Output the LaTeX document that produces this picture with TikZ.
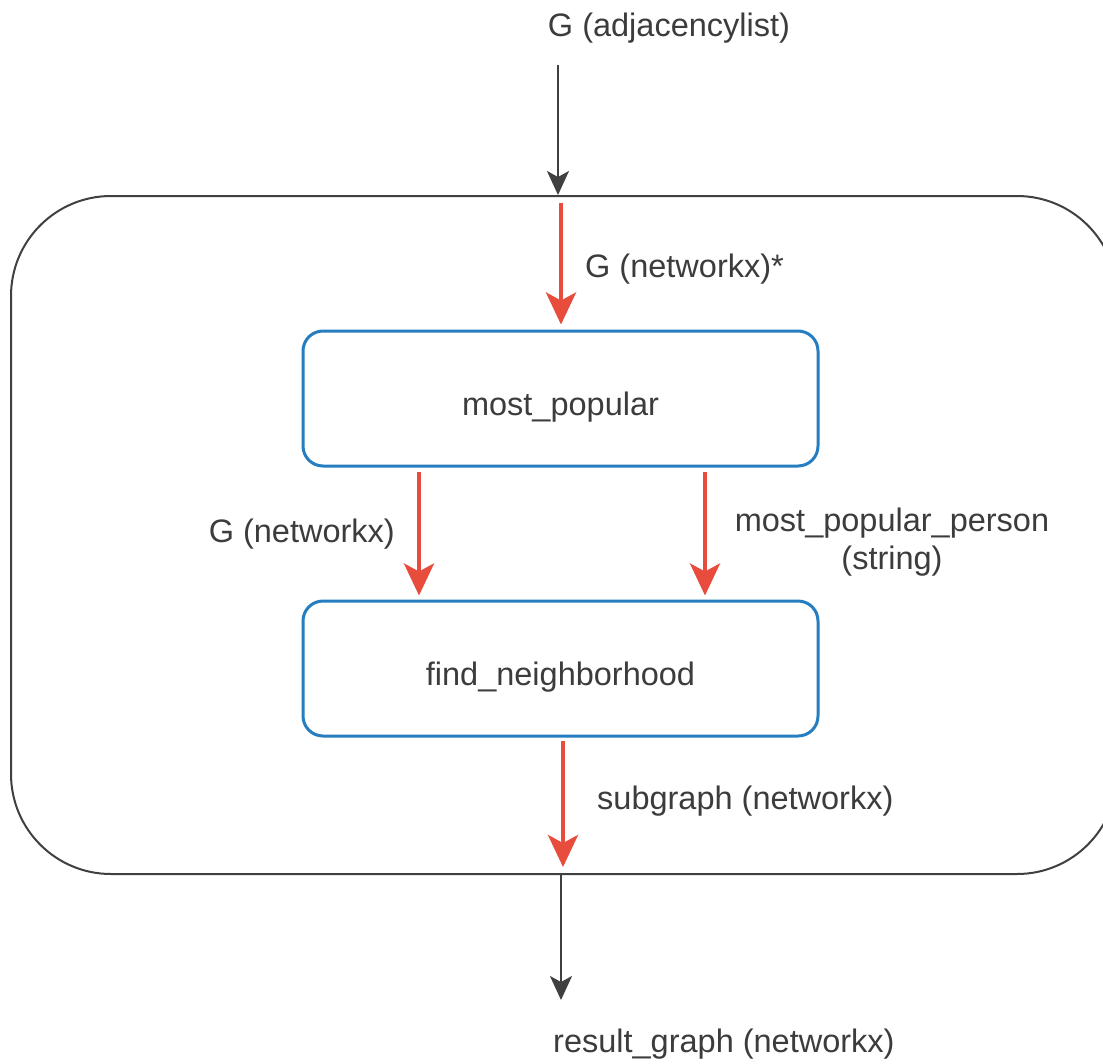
\documentclass[tikz,border=0pt]{standalone}
\usepackage{fontspec}
\setmainfont{Liberation Sans}
\usetikzlibrary{arrows.meta}
\definecolor{redarr}{RGB}{231,76,60}
\definecolor{bluebox}{RGB}{38,126,192}
\definecolor{txt}{RGB}{60,60,60}
\definecolor{outerc}{RGB}{64,64,64}
\tikzset{
  procbox/.style={draw=bluebox, line width=3pt, rounded corners=20pt, minimum width=515pt, minimum height=135pt, inner sep=0pt, text=txt, text height=34pt, text depth=0pt},
  outerbox/.style={draw=outerc, line width=2pt, rounded corners=100pt, minimum width=1106pt, minimum height=678pt, inner sep=0pt},
  redarrow/.style={draw=redarr, line width=4pt, -{Stealth[length=32pt,width=30pt,inset=8pt]}},
  blackarrow/.style={draw=outerc, line width=2pt, -{Stealth[length=24pt,width=22pt,inset=6pt]}},
  lbl/.style={text=txt, inner sep=0pt}
}
\begin{document}
\begin{tikzpicture}[x=1pt,y=-1pt, font=\fontsize{32.5}{38}\selectfont]
\useasboundingbox (0,0) rectangle (1103,1063);
\clip (0,0) rectangle (1103,1063);
\fill[white] (0,0) rectangle (1103,1063);

\node[outerbox] (outer) at (564,535) {};
\node[procbox] (mp) at (560.5,398.5) {most\_popular};
\node[procbox] (fn) at (560.5,668.5) {find\_neighborhood};

\node[lbl] (gin) at (669,28) {G (adjacencylist)};
\node[lbl, anchor=west] (l1) at (585,269) {G (networkx)*};
\node[lbl, anchor=east] (l2) at (395,534) {G (networkx)};
\node[lbl, align=center] (l3) at (892,542) {most\_popular\_person\\(string)};
\node[lbl, anchor=west] (l4) at (597,801) {subgraph (networkx)};
\node[lbl, anchor=west] (gout) at (553,1044) {result\_graph (networkx)};

\coordinate (ins) at (558,65);
\coordinate (r1s) at (561,203);
\coordinate (r2s) at (419,472);
\coordinate (r3s) at (705,472);
\coordinate (r4s) at (563,741);
\coordinate (outs) at (561,874);
\coordinate (oute) at (561,1000);

\draw[blackarrow] (ins) -- (ins |- outer.north);
\draw[redarrow, shorten >=5pt] (r1s) -- (r1s |- mp.north);
\draw[redarrow, shorten >=4pt] (r2s) -- (r2s |- fn.north);
\draw[redarrow, shorten >=4pt] (r3s) -- (r3s |- fn.north);
\draw[redarrow, shorten >=8pt] (r4s) -- (r4s |- outer.south);
\draw[blackarrow] (outs) -- (oute);
\end{tikzpicture}
\end{document}
